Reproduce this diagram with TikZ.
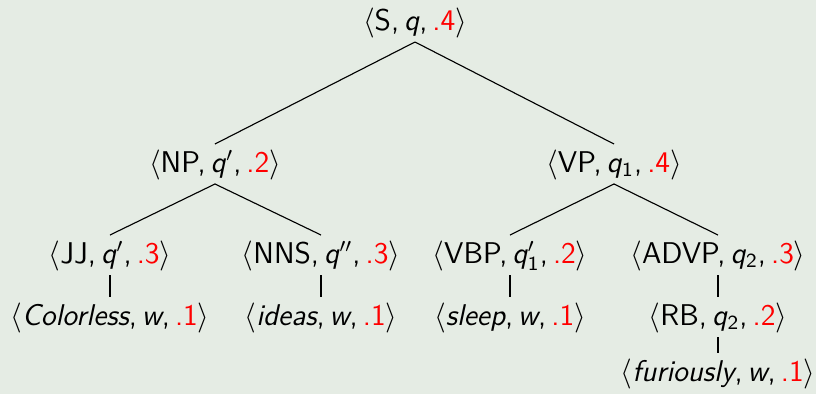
\documentclass[tikz,border=0pt]{standalone}
\usepackage{amsmath}
\definecolor{bgpaper}{RGB}{229,236,228}
% one tree label: < category, state, weight >
\newcommand{\tup}[3]{$\langle$#1,\,#2,\,\textcolor{red}{#3}$\rangle$}
\newcommand{\st}[1]{\textit{#1}}
\newcommand{\sub}[1]{$_{\textsf{#1}}$}
\begin{document}
\begin{tikzpicture}[x=0.4pt,y=-0.4pt,
  lab/.style={inner sep=0pt, anchor=base, text height=11pt, text depth=4.6pt,
              font=\fontsize{12}{14}\sffamily},
  branch/.style={line width=0.45pt}]
  \fill[bgpaper] (0,0) rectangle (816,394);
  \useasboundingbox (0,0) rectangle (816,394);
  % root
  \node[lab] (s)    at (415,30)  {\tup{S}{\st{q}}{.4}};
  % phrases
  \node[lab] (np)   at (215,172) {\tup{NP}{\st{q}$'$}{.2}};
  \node[lab] (vp)   at (614,172) {\tup{VP}{\st{q}\sub{1}}{.4}};
  % pre-terminals
  \node[lab] (jj)   at (110,263) {\tup{JJ}{\st{q}$'$}{.3}};
  \node[lab] (nns)  at (321,263) {\tup{NNS}{\st{q}$''$}{.3}};
  \node[lab] (vbp)  at (510,263) {\tup{VBP}{\st{q}$'_{\textsf{1}}$}{.2}};
  \node[lab] (advp) at (718,263) {\tup{ADVP}{\st{q}\sub{2}}{.3}};
  % words
  \node[lab] (colorless) at (110,325) {\tup{\st{Colorless}}{\st{w}}{.1}};
  \node[lab] (ideas)     at (321,325) {\tup{\st{ideas}}{\st{w}}{.1}};
  \node[lab] (sleep)     at (510,325) {\tup{\st{sleep}}{\st{w}}{.1}};
  \node[lab] (rb)        at (718,325) {\tup{RB}{\st{q}\sub{2}}{.2}};
  \node[lab] (furiously) at (718,381) {\tup{\st{furiously}}{\st{w}}{.1}};
  % edges
  \draw[branch] (s.south) -- (np.north);
  \draw[branch] (s.south) -- (vp.north);
  \draw[branch] (np.south) -- (jj.north);
  \draw[branch] (np.south) -- (nns.north);
  \draw[branch] (vp.south) -- (vbp.north);
  \draw[branch] (vp.south) -- (advp.north);
  \draw[branch] (jj.south) -- (colorless.north);
  \draw[branch] (nns.south) -- (ideas.north);
  \draw[branch] (vbp.south) -- (sleep.north);
  \draw[branch] (advp.south) -- (rb.north);
  \draw[branch] (rb.south) -- (furiously.north);
\end{tikzpicture}
\end{document}
